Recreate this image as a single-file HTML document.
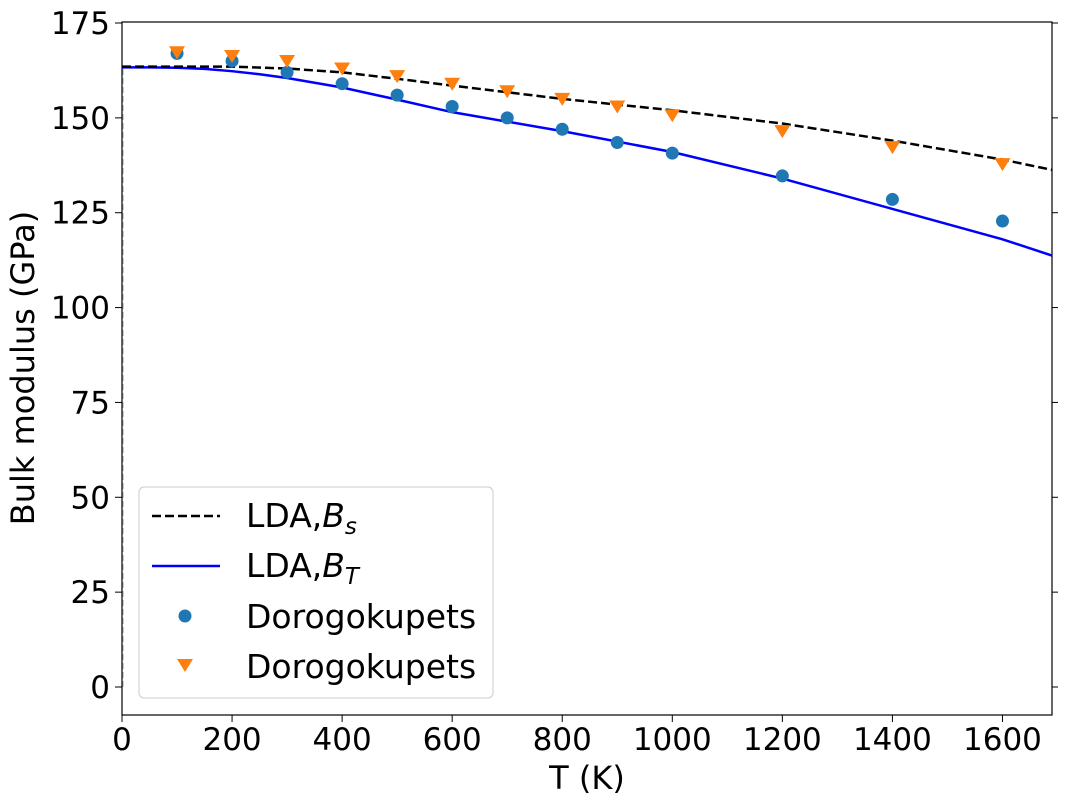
<!DOCTYPE html>
<html><head><meta charset="utf-8"><style>
body{margin:0;background:#fff}
svg{font-family:"DejaVu Sans","Liberation Sans",sans-serif}
</style></head><body>
<svg id="chart" width="1065" height="806">
<rect x="122" y="22" width="930" height="693" fill="none" stroke="#000" stroke-width="1.2"/>
<line x1="123" y1="687" x2="123" y2="67" stroke="#888" stroke-width="0.8" stroke-dasharray="6,3"/>
<g id="ticks"></g><g id="series"></g>
<text x="587" y="789" font-size="32" text-anchor="middle">T (K)</text>
<text transform="translate(34,368) rotate(-90)" font-size="32" text-anchor="middle">Bulk modulus (GPa)</text>
<g>
<rect x="139" y="487" width="354" height="211" rx="5" fill="#fff" fill-opacity="0.8" stroke="#ccc"/>
<line x1="152" y1="516" x2="220" y2="516" stroke="#000" stroke-width="2.5" stroke-dasharray="9,4"/>
<text x="246" y="527" font-size="33">LDA,<tspan font-style="italic">B</tspan><tspan font-style="italic" font-size="23" dy="7">s</tspan></text>
<line x1="152" y1="566" x2="220" y2="566" stroke="#0000ff" stroke-width="2.5"/>
<text x="246" y="577" font-size="33">LDA,<tspan font-style="italic">B</tspan><tspan font-style="italic" font-size="23" dy="7">T</tspan></text>
<circle cx="185" cy="616" r="6.5" fill="#1f77b4"/>
<text x="246" y="628" font-size="33">Dorogokupets</text>
<path d="M177,659 L193,659 L185,672 Z" fill="#ff7f0e"/>
<text x="246" y="678" font-size="33">Dorogokupets</text>
</g>
</svg>
<script>
const xTicks=[0,200,400,600,800,1000,1200,1400,1600];
const yTicks=[0,25,50,75,100,125,150,175];
const circleT=[100,200,300,400,500,600,700,800,900,1000,1200,1400,1600];
const circleB=[167,165,162,159,156,153,150,147,143.5,140.7,134.7,128.5,122.8];
const triT=[100,200,300,400,500,600,700,800,900,1000,1200,1400,1600];
const triB=[167.3,166.3,165,163,161,159,157,155,153,150.7,146.5,142.3,137.8];
const bsT=[0,100,200,300,400,500,600,800,1000,1200,1400,1600,1690];
const bsB=[163.5,163.5,163.5,163,162,160.3,158.5,155,152,148.5,144,139,136.3];
const btT=[0,50,100,150,200,250,300,400,500,600,800,1000,1200,1400,1600,1690];
const btB=[163.3,163.3,163.2,162.9,162.3,161.5,160.5,158,154.8,151.5,146.5,141,134,126,118,113.7];
const X=t=>122+(t-0)*930/1690;
const Y=v=>687-v*(664/175);
const NS="http://www.w3.org/2000/svg";
const tg=document.getElementById('ticks'),sg=document.getElementById('series');
function mk(p,tag,a){const e=document.createElementNS(NS,tag);for(const k in a)e.setAttribute(k,a[k]);p.appendChild(e);return e;}
xTicks.forEach(t=>{
 const l=mk(tg,'line',{x1:X(t),x2:X(t),y1:715,y2:722,stroke:'#000'});
 
 
 const tx=mk(tg,'text',{x:X(t),y:750,'font-size':31,'text-anchor':'middle'});tx.textContent=t;
 
 
});
yTicks.forEach(v=>{
 const l=mk(tg,'line',{x1:115,x2:122,y1:Y(v),y2:Y(v),stroke:'#000'});
 
 
 const r=mk(tg,'line',{x1:1052,x2:1058,y1:Y(v),y2:Y(v),stroke:'#000'});
 
 
 const tx=mk(tg,'text',{x:110,y:Y(v)+11,'font-size':31,'text-anchor':'end'});tx.textContent=v;
 
 
});
function pts(T,B){return T.map((t,i)=>X(t)+','+Y(B[i])).join(' ');}
const bt=mk(sg,'polyline',{points:pts(btT,btB),fill:'none',stroke:'#0000ff','stroke-width':2.5});


const bs=mk(sg,'polyline',{points:pts(bsT,bsB),fill:'none',stroke:'#000','stroke-width':2.5,'stroke-dasharray':'9,4'});


circleT.forEach((t,i)=>{
 const c=mk(sg,'circle',{cx:X(t),cy:Y(circleB[i]),r:6.5,fill:'#1f77b4'});
 
 
});
triT.forEach((t,i)=>{
 const x=X(t),y=Y(triB[i]);
 const p=mk(sg,'path',{d:`M${x-8},${y-6} L${x+8},${y-6} L${x},${y+7} Z`,fill:'#ff7f0e'});
 
 
});
</script>
</body></html>
